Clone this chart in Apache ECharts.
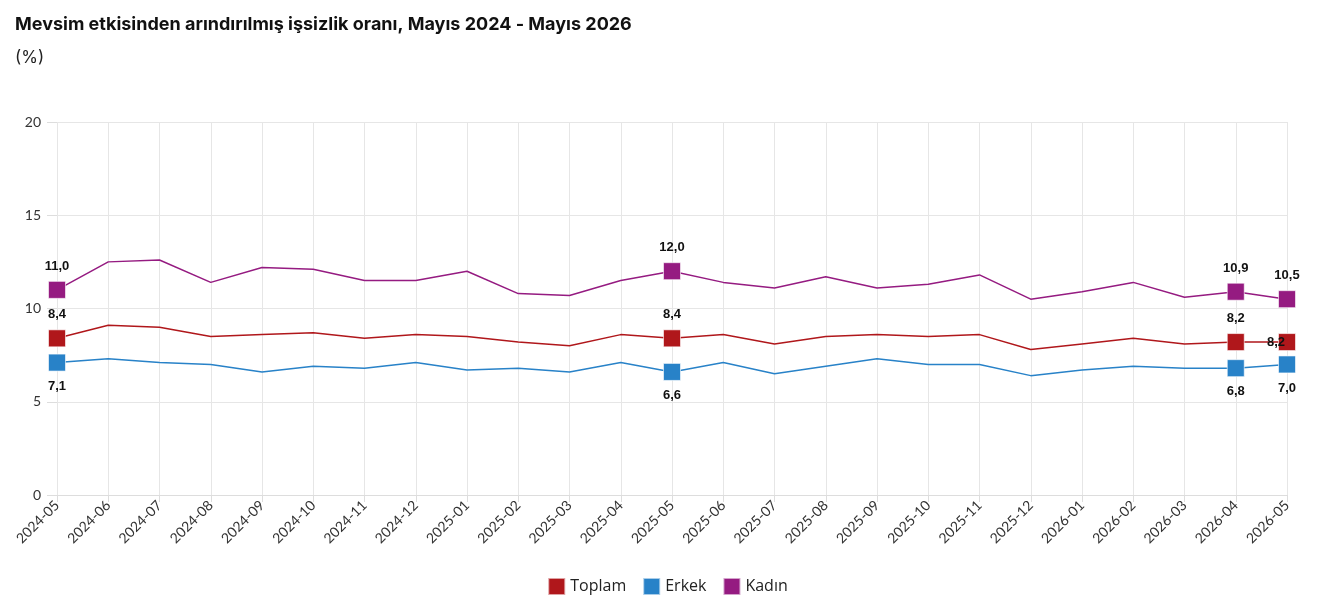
<!DOCTYPE html>
<html>
<head>
<meta charset="utf-8">
<style>
  html, body { margin: 0; padding: 0; background: #fff; }
  #main { width: 1335px; height: 601px; }
</style>
<script src="https://cdn.jsdelivr.net/npm/echarts@6/dist/echarts.min.js"></script>
</head>
<body>
<div id="main"></div>
<script>
// aylar
const months = ['2024-05', '2024-06', '2024-07', '2024-08', '2024-09', '2024-10', '2024-11', '2024-12',
  '2025-01', '2025-02', '2025-03', '2025-04', '2025-05', '2025-06', '2025-07', '2025-08', '2025-09',
  '2025-10', '2025-11', '2025-12', '2026-01', '2026-02', '2026-03', '2026-04', '2026-05'];

const toplam = [8.4, 9.1, 9.0, 8.5, 8.6, 8.7, 8.4, 8.6, 8.5, 8.2, 8.0, 8.6, 8.4, 8.6, 8.1, 8.5, 8.6,
  8.5, 8.6, 7.8, 8.1, 8.4, 8.1, 8.2, 8.2];
const erkek = [7.1, 7.3, 7.1, 7.0, 6.6, 6.9, 6.8, 7.1, 6.7, 6.8, 6.6, 7.1, 6.6, 7.1, 6.5, 6.9, 7.3,
  7.0, 7.0, 6.4, 6.7, 6.9, 6.8, 6.8, 7.0];
const kadin = [11.0, 12.5, 12.6, 11.4, 12.2, 12.1, 11.5, 11.5, 12.0, 10.8, 10.7, 11.5, 12.0, 11.4, 11.1, 11.7, 11.1,
  11.3, 11.8, 10.5, 10.9, 11.4, 10.6, 10.9, 10.5];

// etiketli noktalar
const marked = [0, 12, 23, 24];

const fmt = v => v.toFixed(1).replace('.', ',');

function buildData(values, pos, lastPos) {
  return values.map((v, i) => {
    if (marked.indexOf(i) < 0) return v;
    const item = {
      value: v,
      symbol: 'rect',
      symbolSize: 17,
      label: { show: true, position: pos, distance: 8 }
    };
    if (i === values.length - 1 && lastPos) {
      item.label = Object.assign(item.label, lastPos);
    }
    return item;
  });
}

function lineSeries(name, color, values, pos, lastPos) {
  return {
    name: name,
    type: 'line',
    symbol: 'none',
    showSymbol: true,
    animation: false,
    lineStyle: { width: 1.5, color: color },
    itemStyle: { color: color, borderColor: 'rgba(255,255,255,0.6)', borderWidth: 1 },
    label: {
      show: false,
      formatter: p => fmt(p.value),
      color: '#111',
      fontWeight: 'bold',
      fontSize: 13,
      fontFamily: 'Liberation Sans, Arial, sans-serif'
    },
    z: 3,
    data: buildData(values, pos, lastPos)
  };
}

const chart = echarts.init(document.getElementById('main'));

const option = {
  title: [{
    text: 'Mevsim etkisinden arındırılmış işsizlik oranı, Mayıs 2024 - Mayıs 2026',
    left: 10,
    top: 11,
    textStyle: { fontSize: 18, fontWeight: 'bold', color: '#111', fontFamily: 'Inter, Roboto, sans-serif' }
  }, {
    text: '(%)',
    left: 10,
    top: 44,
    textStyle: { fontSize: 17, fontWeight: 'normal', color: '#222', fontFamily: 'Inter, Roboto, sans-serif' }
  }],
  legend: {
    bottom: 0,
    left: 'center',
    icon: 'rect',
    itemWidth: 17,
    itemHeight: 17,
    itemGap: 16,
    textStyle: { fontSize: 16, color: '#222', fontFamily: 'Open Sans, Lato, sans-serif' },
    data: ['Toplam', 'Erkek', 'Kadın']
  },
  grid: { left: 57, right: 48, top: 122, bottom: 106 },
  xAxis: {
    type: 'category',
    data: months,
    boundaryGap: false,
    axisLine: { lineStyle: { color: '#ddd' } },
    axisTick: { show: true, length: 7, lineStyle: { color: '#ddd' } },
    splitLine: { show: true, lineStyle: { color: '#e6e6e6' } },
    axisLabel: {
      rotate: 45,
      interval: 0,
      color: '#333',
      fontSize: 14,
      margin: 8,
      fontFamily: 'Lato, Noto Sans, sans-serif'
    }
  },
  yAxis: {
    type: 'value',
    min: 0,
    max: 20,
    interval: 5,
    axisLine: { show: false },
    axisTick: { show: true, length: 10, lineStyle: { color: '#ddd' } },
    splitLine: { lineStyle: { color: '#e6e6e6' } },
    axisLabel: { color: '#333', fontSize: 14, margin: 16, fontFamily: 'Lato, Noto Sans, sans-serif' }
  },
  series: [
    lineSeries('Toplam', '#b0171b', toplam, 'top', { position: 'inside', offset: [-11, 0] }),
    lineSeries('Erkek', '#2882c8', erkek, 'bottom'),
    lineSeries('Kadın', '#951b81', kadin, 'top')
  ]
};

chart.setOption(option);
</script>
</body>
</html>
